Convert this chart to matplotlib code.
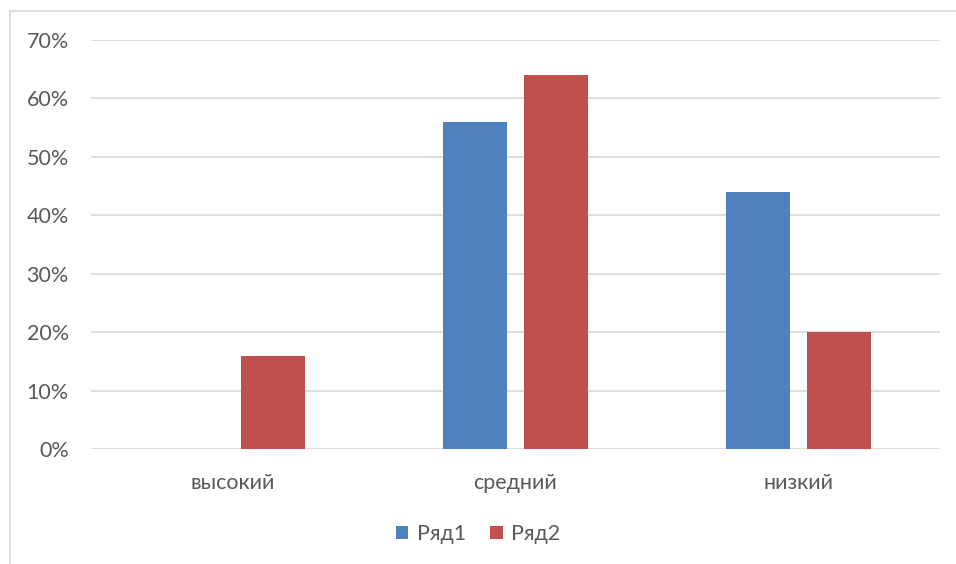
import numpy as np
import matplotlib.pyplot as plt
from matplotlib.lines import Line2D
from matplotlib.ticker import PercentFormatter

plt.rcParams['font.family'] = ['Lato', 'DejaVu Sans']

categories = ['высокий', 'средний', 'низкий']
series1 = [0, 56, 44]   # Ряд1, %
series2 = [16, 64, 20]  # Ряд2, %
series_names = ['Ряд1', 'Ряд2']
colors = ['#4F81BD', '#C0504D']

fig = plt.figure(figsize=(9.56, 5.64), dpi=100)
ax = fig.add_axes([91 / 956, 115 / 564, 849 / 956, 409 / 564])

x = np.arange(len(categories))
w = 0.226
off = 0.143
ax.bar(x - off, series1, width=w, color=colors[0], label=series_names[0], zorder=3)
ax.bar(x + off, series2, width=w, color=colors[1], label=series_names[1], zorder=3)

ax.set_xlim(-0.5, 2.5)
ax.set_ylim(0, 70)
ax.set_yticks(np.arange(0, 71, 10))
ax.yaxis.set_major_formatter(PercentFormatter(decimals=0))
ax.grid(axis='y', color='#D9D9D9', linewidth=1.2, zorder=0)
ax.set_xticks(x)
ax.set_xticklabels(categories)
for s in ax.spines.values():
    s.set_visible(False)
ax.tick_params(length=0, labelsize=15.5, colors='#595959')
ax.tick_params(axis='y', pad=16)
ax.tick_params(axis='x', pad=17)

ax.legend(loc='center', bbox_to_anchor=(0.5, (564 - 534) / 564), bbox_transform=fig.transFigure,
          ncol=2, frameon=False, fontsize=15.5, labelcolor='#595959',
          handlelength=0.6, handleheight=0.6, handletextpad=0.4, columnspacing=1.1)

# chart frame
fig.add_artist(Line2D([10 / 956, 1], [553 / 564, 553 / 564], color='#D9D9D9', linewidth=1.2))
fig.add_artist(Line2D([10 / 956, 10 / 956], [0, 553 / 564], color='#D9D9D9', linewidth=1.2))

fig.savefig('out.png', dpi=100)
